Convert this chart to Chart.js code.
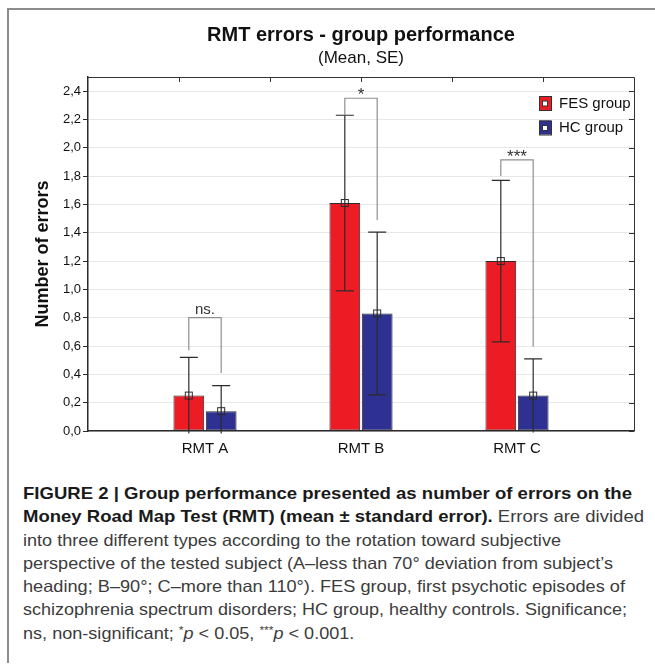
<!DOCTYPE html>
<html>
<head>
<meta charset="utf-8">
<script src="https://cdn.jsdelivr.net/npm/chart.js@4.4.1/dist/chart.umd.min.js"></script>
<style>
html, body { margin: 0; padding: 0; background: #fff; }
body { width: 655px; height: 666px; position: relative; overflow: hidden; font-family: "Liberation Sans", Arial, sans-serif; }
#frame { position: absolute; left: 7px; top: 8px; width: 648px; height: 655px; border-top: 2px solid #8c8c8c; border-left: 2px solid #8c8c8c; box-sizing: border-box; }
#wrap { position: absolute; left: 0; top: 0; width: 655px; height: 470px; }
#caption { position: absolute; left: 23px; top: 482px; color: #3c3c3c; font-size: 16.5px; }
.ln { white-space: nowrap; height: 23.3px; line-height: 23.3px; }
.ln span.t { display: inline-block; transform-origin: 0 50%; }
.ln b { color: #1a1a1a; }
sup { font-size: 11px; line-height: 0; vertical-align: 0.45em; }
</style>
</head>
<body>
<div id="frame"></div>
<div id="wrap"><canvas id="chart" width="655" height="470"></canvas></div>
<div id="caption">
  <div class="ln" data-w="609"><span class="t"><b>FIGURE 2 | Group performance presented as number of errors on the</b></span></div>
  <div class="ln" data-w="621"><span class="t"><b>Money Road Map Test (RMT) (mean ± standard error).</b> Errors are divided</span></div>
  <div class="ln" data-w="538"><span class="t">into three different types according to the rotation toward subjective</span></div>
  <div class="ln" data-w="590"><span class="t">perspective of the tested subject (A–less than 70° deviation from subject’s</span></div>
  <div class="ln" data-w="602"><span class="t">heading; B–90°; C–more than 110°). FES group, first psychotic episodes of</span></div>
  <div class="ln" data-w="604"><span class="t">schizophrenia spectrum disorders; HC group, healthy controls. Significance;</span></div>
  <div class="ln" data-w="auto"><span class="t">ns, non-significant; <sup>*</sup><i>p</i> &lt; 0.05, <sup>***</sup><i>p</i> &lt; 0.001.</span></div>
</div>
<script>
// ---- data ----
const CATEGORIES = ['RMT A', 'RMT B', 'RMT C'];
const SERIES_LABELS = ['FES group', 'HC group'];
const SERIES_COLORS = ['#ED1C24', '#2E3192'];

const FES_MEAN = [0.25, 1.61, 1.20];
const HC_MEAN = [0.14, 0.83, 0.25];
const FES_SE = [0.27, 0.62, 0.57];
const HC_SE = [0.18, 0.575, 0.26];

// significance brackets: label, top of bracket, ends of left/right legs
const SIG_LABELS = ['ns.', '*', '***'];
const SIG_TOP = [0.80, 2.35, 1.915];
const SIG_LEFT_END = [0.57, 2.23, 1.80];
const SIG_RIGHT_END = [0.41, 1.49, 0.595];

const TITLE = 'RMT errors - group performance';
const SUBTITLE = '(Mean, SE)';
const Y_TITLE = 'Number of errors';
const Y_MAX = 2.5;
const Y_STEP = 0.2;

const MEANS = [FES_MEAN, HC_MEAN];
const ERRS = [FES_SE, HC_SE];
const FONT = '"Liberation Sans", Arial, sans-serif';

// error bars + mean markers
const errorBars = {
  id: 'errorBars',
  afterDatasetsDraw(chart) {
    const ctx = chart.ctx;
    const y = chart.scales.y;
    const area = chart.chartArea;
    ctx.save();
    ctx.beginPath();
    ctx.rect(0, 0, chart.width, area.bottom + 2.5);
    ctx.clip();
    ctx.strokeStyle = '#2b2b2b';
    ctx.lineWidth = 1.2;
    MEANS.forEach((means, d) => {
      const meta = chart.getDatasetMeta(d);
      meta.data.forEach((bar, i) => {
        const hi = means[i] + ERRS[d][i];
        const lo = means[i] - ERRS[d][i];
        const yh = y.getPixelForValue(hi);
        const yl = y.getPixelForValue(lo);
        ctx.beginPath();
        ctx.moveTo(bar.x, yh);
        ctx.lineTo(bar.x, yl);
        ctx.moveTo(bar.x - 9, yh);
        ctx.lineTo(bar.x + 9, yh);
        if (lo > 0) {
          ctx.moveTo(bar.x - 9, yl);
          ctx.lineTo(bar.x + 9, yl);
        }
        ctx.stroke();
        ctx.lineWidth = 1;
        ctx.strokeRect(bar.x - 3.5, bar.y - 3.5, 7, 7);
        ctx.lineWidth = 1.2;
      });
    });
    ctx.restore();

    // significance brackets
    const m0 = chart.getDatasetMeta(0), m1 = chart.getDatasetMeta(1);
    ctx.save();
    ctx.strokeStyle = '#8f8f8f';
    ctx.lineWidth = 1.2;
    ctx.fillStyle = '#333';
    ctx.textAlign = 'center';
    ctx.textBaseline = 'alphabetic';
    SIG_LABELS.forEach((lab, i) => {
      const xl = m0.data[i].x, xr = m1.data[i].x;
      const yt = y.getPixelForValue(SIG_TOP[i]);
      ctx.beginPath();
      ctx.moveTo(xl, y.getPixelForValue(SIG_LEFT_END[i]));
      ctx.lineTo(xl, yt);
      ctx.lineTo(xr, yt);
      ctx.lineTo(xr, y.getPixelForValue(SIG_RIGHT_END[i]));
      ctx.stroke();
      ctx.font = (lab.startsWith('*') ? '17px ' : '15px ') + FONT;
      const m = ctx.measureText(lab);
      ctx.fillText(lab, (xl + xr) / 2, yt - 4 - m.actualBoundingBoxDescent);
    });
    ctx.restore();
  }
};

// plot frame, inward ticks, title and legend
const decor = {
  id: 'decor',
  afterDraw(chart) {
    const ctx = chart.ctx;
    const a = chart.chartArea;
    const y = chart.scales.y;
    ctx.save();
    ctx.strokeStyle = '#333';
    ctx.lineWidth = 1;
    ctx.beginPath();
    ctx.moveTo(a.left, a.top + 0.5);
    ctx.lineTo(a.right + 0.5, a.top + 0.5);
    ctx.lineTo(a.right + 0.5, a.bottom);
    for (let k = 1; k < 6; k++) {
      const x = Math.round(a.left + (a.right - a.left) * k / 6) + 0.5;
      ctx.moveTo(x, a.top);
      ctx.lineTo(x, a.top + 5);
    }
    y.ticks.forEach(t => {
      const py = Math.round(y.getPixelForValue(t.value)) + 0.5;
      ctx.moveTo(a.right, py);
      ctx.lineTo(a.right - 5, py);
    });
    ctx.stroke();

    const cx = (a.left + a.right) / 2;
    ctx.fillStyle = '#111';
    ctx.textAlign = 'center';
    ctx.textBaseline = 'middle';
    ctx.font = 'bold 20px ' + FONT;
    ctx.fillText(TITLE, cx, 35);
    ctx.font = '17px ' + FONT;
    ctx.fillText(SUBTITLE, cx, 58);

    // legend inside plot, top right
    ctx.font = '15px ' + FONT;
    ctx.textAlign = 'left';
    SERIES_LABELS.forEach((lab, i) => {
      const bx = a.right - 95, by = a.top + 19 + i * 24.5;
      ctx.fillStyle = SERIES_COLORS[i];
      ctx.fillRect(bx, by, 12, 14);
      ctx.strokeStyle = '#333';
      ctx.strokeRect(bx + 0.5, by + 0.5, 12, 14);
      ctx.fillStyle = '#fff';
      ctx.fillRect(bx + 3.5, by + 5, 5, 5);
      ctx.strokeRect(bx + 3.5, by + 5, 5, 5);
      ctx.fillStyle = '#111';
      ctx.fillText(lab, bx + 20, by + 7.5);
    });
    ctx.restore();
  }
};

new Chart(document.getElementById('chart'), {
  type: 'bar',
  data: {
    datasets: SERIES_LABELS.map((lab, d) => ({
      label: lab,
      data: CATEGORIES.map((c, i) => ({ x: i, y: MEANS[d][i] })),
      backgroundColor: SERIES_COLORS[d],
      borderColor: '#2b2b2b',
      borderWidth: 1,
      borderSkipped: false,
      categoryPercentage: 0.415,
      barPercentage: 0.95
    }))
  },
  options: {
    responsive: false,
    animation: false,
    layout: { padding: { top: 77, right: 21, left: 0, bottom: 0 } },
    plugins: { legend: { display: false }, tooltip: { enabled: false } },
    scales: {
      x: {
        type: 'linear',
        min: -0.75,
        max: 2.75,
        offset: false,
        grid: { display: false, offset: false },
        border: { display: true, color: '#2b2b2b', width: 1.5 },
        ticks: {
          stepSize: 1,
          includeBounds: false,
          padding: 1,
          color: '#111',
          font: { size: 15, family: FONT },
          callback: v => CATEGORIES[v] || ''
        },
        afterFit: s => { s.height = 39; }
      },
      y: {
        min: 0,
        max: Y_MAX,
        grid: { color: '#e8e8e8', tickColor: '#2b2b2b', tickLength: 5 },
        border: { display: true, color: '#2b2b2b', width: 1.5 },
        ticks: {
          stepSize: Y_STEP,
          includeBounds: false,
          padding: 2,
          color: '#111',
          font: { size: 13, family: FONT },
          callback: v => v.toFixed(1).replace('.', ',')
        },
        title: {
          display: true,
          text: Y_TITLE,
          color: '#111',
          font: { size: 18, weight: 'bold', family: FONT },
          padding: { top: 32, bottom: 0 }
        },
        afterFit: s => { s.width = 88; }
      }
    }
  },
  plugins: [errorBars, decor]
});

// squeeze caption lines to the widths of the original typeset lines;
// the short last line takes the mean squeeze of the other regular lines
function fitCaption() {
  const lines = [...document.querySelectorAll('#caption .ln')];
  const scales = [];
  lines.forEach(ln => {
    if (ln.dataset.w === 'auto') return;
    const sp = ln.querySelector('.t');
    const s = parseFloat(ln.dataset.w) / sp.getBoundingClientRect().width;
    sp.style.transform = 'scaleX(' + s + ')';
    if (!ln.querySelector('b')) scales.push(s);
  });
  const mean = scales.reduce((p, q) => p + q, 0) / scales.length;
  lines.filter(ln => ln.dataset.w === 'auto').forEach(ln => {
    ln.querySelector('.t').style.transform = 'scaleX(' + mean + ')';
  });
}
if (document.fonts && document.fonts.ready) document.fonts.ready.then(fitCaption); else fitCaption();
</script>
</body>
</html>
